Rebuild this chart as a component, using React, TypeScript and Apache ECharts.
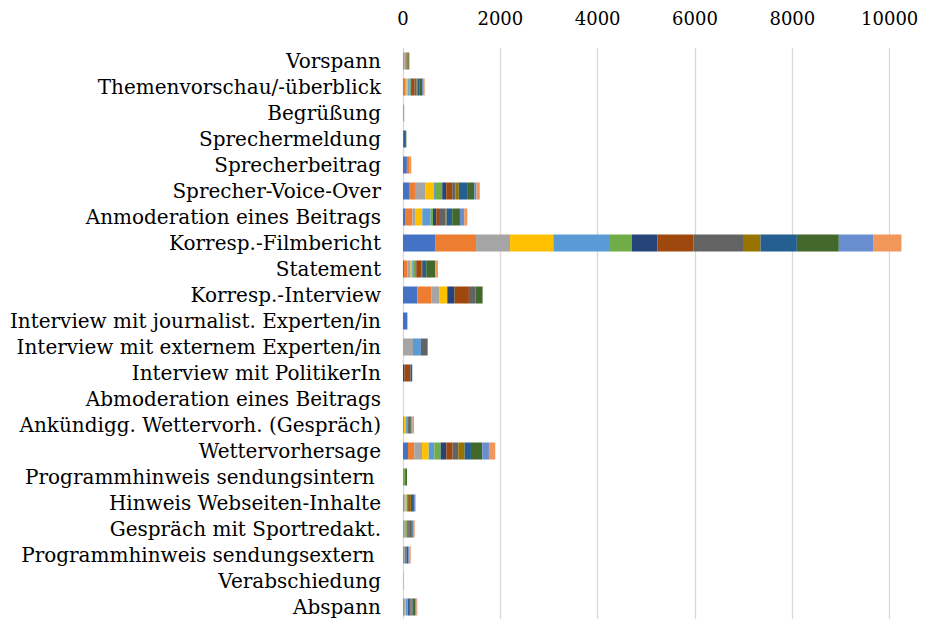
import React, { useEffect, useRef } from "react";
import * as echarts from "echarts";

const categories = [
  "Vorspann",
  "Themenvorschau/-überblick",
  "Begrüßung",
  "Sprechermeldung",
  "Sprecherbeitrag",
  "Sprecher-Voice-Over",
  "Anmoderation eines Beitrags",
  "Korresp.-Filmbericht",
  "Statement",
  "Korresp.-Interview",
  "Interview mit journalist. Experten/in",
  "Interview mit externem Experten/in",
  "Interview mit PolitikerIn",
  "Abmoderation eines Beitrags",
  "Ankündigg. Wettervorh. (Gespräch)",
  "Wettervorhersage",
  "Programmhinweis sendungsintern ",
  "Hinweis Webseiten-Inhalte",
  "Gespräch mit Sportredakt.",
  "Programmhinweis sendungsextern ",
  "Verabschiedung",
  "Abspann",
];

const xTicks = [0, 2000, 4000, 6000, 8000, 10000];

const colors = [
  "#4472C4", "#ED7D31", "#A5A5A5", "#FFC000", "#5B9BD5", "#70AD47", "#264478",
  "#9E480E", "#636363", "#997300", "#255E91", "#43682B", "#698ED0", "#F1975A",
];

// one array per series (14 series), one value per category
const s1 = [10, 15, 0, 0, 80, 123, 55, 660, 20, 294, 90, 0, 0, 0, 0, 103, 0, 0, 0, 0, 0, 0];
const s2 = [15, 40, 0, 0, 45, 123, 137, 842, 68, 294, 0, 0, 0, 0, 20, 130, 0, 25, 25, 20, 0, 20];
const s3 = [20, 20, 25, 0, 0, 219, 68, 698, 68, 164, 0, 205, 0, 0, 0, 158, 0, 20, 20, 25, 10, 20];
const s4 = [0, 30, 0, 0, 0, 171, 137, 890, 34, 158, 0, 0, 0, 0, 40, 137, 0, 25, 0, 0, 0, 20];
const s5 = [0, 30, 0, 0, 0, 20, 171, 1164, 34, 0, 0, 164, 0, 0, 20, 116, 0, 0, 20, 0, 0, 25];
const s6 = [25, 25, 0, 0, 0, 150, 48, 445, 34, 0, 0, 0, 0, 0, 25, 130, 40, 20, 25, 0, 0, 20];
const s7 = [0, 20, 0, 0, 0, 82, 68, 527, 15, 150, 0, 0, 30, 0, 0, 116, 0, 0, 25, 0, 0, 20];
const s8 = [10, 60, 0, 0, 0, 123, 55, 746, 103, 294, 0, 0, 125, 0, 0, 130, 0, 30, 25, 0, 0, 25];
const s9 = [15, 40, 0, 0, 0, 68, 137, 1033, 34, 137, 0, 137, 0, 0, 20, 116, 20, 25, 30, 30, 0, 30];
const s10 = [0, 15, 0, 20, 0, 68, 20, 342, 0, 0, 0, 0, 0, 0, 0, 130, 0, 20, 0, 0, 0, 15];
const s11 = [0, 50, 0, 23, 0, 171, 116, 746, 68, 0, 0, 0, 35, 0, 25, 130, 0, 40, 30, 30, 0, 30];
const s12 = [25, 45, 0, 25, 0, 144, 158, 862, 185, 144, 0, 0, 0, 0, 20, 233, 22, 20, 0, 0, 0, 25];
const s13 = [0, 20, 0, 0, 0, 48, 89, 705, 0, 0, 0, 0, 0, 0, 25, 137, 0, 20, 20, 30, 0, 25];
const s14 = [15, 35, 0, 0, 45, 68, 62, 582, 55, 0, 0, 0, 0, 0, 31, 130, 0, 15, 20, 23, 0, 19];

const seriesData = [s1, s2, s3, s4, s5, s6, s7, s8, s9, s10, s11, s12, s13, s14];

export default function App() {
  const ref = useRef<HTMLDivElement>(null);

  useEffect(() => {
    document.body.style.margin = "0";
    if (!ref.current) return;
    const chart = echarts.init(ref.current, null, { renderer: "svg" });
    const font = "'DejaVu Serif', serif";
    chart.setOption({
      animation: false,
      backgroundColor: "#ffffff",
      textStyle: { fontFamily: font },
      grid: { left: 403, top: 48, right: 2, bottom: 0, containLabel: false },
      xAxis: {
        type: "value",
        position: "top",
        min: 0,
        max: 12000,
        interval: 2000,
        axisLine: { show: false },
        axisTick: { show: false },
        axisLabel: {
          margin: 21,
          fontSize: 18,
          color: "#000000",
          fontFamily: font,
          formatter: (v: number) => (xTicks.includes(v) ? String(v) : ""),
        },
        splitLine: { show: true, lineStyle: { color: "#d9d9d9", width: 1.3 } },
      },
      yAxis: {
        type: "category",
        inverse: true,
        data: categories,
        axisLine: { show: false },
        axisTick: { show: false },
        axisLabel: {
          interval: 0,
          margin: 22,
          fontSize: 20,
          color: "#000000",
          fontFamily: font,
        },
      },
      series: seriesData.map((d, i) => ({
        type: "bar",
        name: "S" + (i + 1),
        stack: "total",
        data: d,
        barWidth: 17,
        itemStyle: { color: colors[i] },
      })),
    });
    return () => chart.dispose();
  }, []);

  return (
    <div style={{ width: 936, height: 619, overflow: "hidden", position: "relative" }}>
      <div ref={ref} style={{ width: 990, height: 620 }} />
    </div>
  );
}
